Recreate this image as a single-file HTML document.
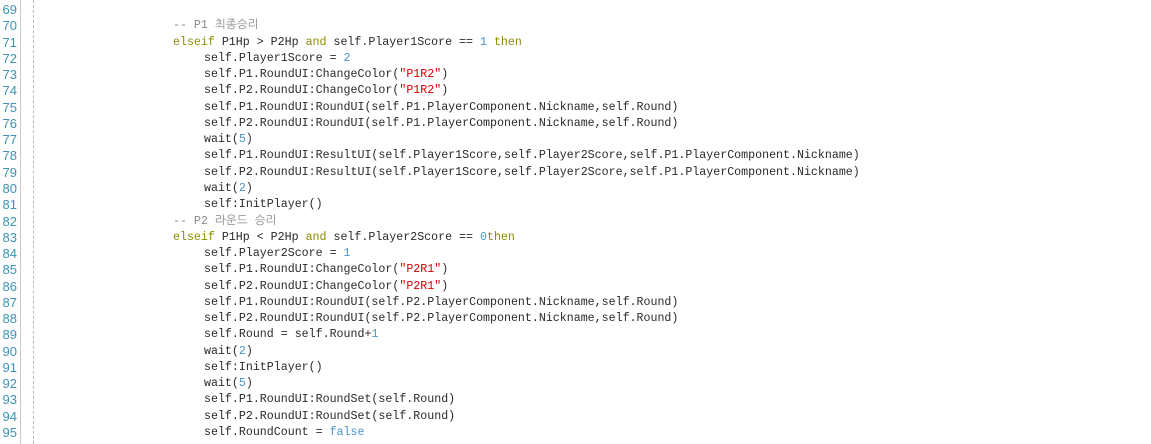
<!DOCTYPE html>
<html><head><meta charset="utf-8"><style>
html,body{margin:0;padding:0;background:#fff;width:1151px;height:444px;overflow:hidden;}
.w{position:relative;width:1151px;height:444px;font-family:"Liberation Mono","NanumGothic","Noto Sans CJK KR",monospace;font-size:11.63px;color:#2a2a2a;}
.g{position:absolute;left:20px;top:0;width:1px;height:444px;background:#c8c8c8;}
.d{position:absolute;left:33px;top:0;height:444px;border-left:1px dashed #bbb;}
.l{position:absolute;left:0;height:16.27px;line-height:16.27px;white-space:pre;}
.n{position:absolute;left:0;width:17px;text-align:right;color:#3b93b5;font-family:"Liberation Sans",sans-serif;font-size:13px;}
.c{position:absolute;}
.i1{left:173px}.i2{left:204px}
.k{color:#8c8c00}.s{color:#d40000}.m{color:#4a95c9}.cm{color:#8a8a8a}
</style></head><body><div class="w">
<div class="g"></div><div class="d"></div>
<div class="l" style="top:2px"><span class="n">69</span></div>
<div class="l" style="top:18.27px"><span class="n">70</span><span class="c i1 cm">-- P1 최종승리</span></div>
<div class="l" style="top:34.54px"><span class="n">71</span><span class="c i1"><span class="k">elseif</span> P1Hp &gt; P2Hp <span class="k">and</span> self.Player1Score == <span class="m">1</span> <span class="k">then</span></span></div>
<div class="l" style="top:50.81px"><span class="n">72</span><span class="c i2">self.Player1Score = <span class="m">2</span></span></div>
<div class="l" style="top:67.08px"><span class="n">73</span><span class="c i2">self.P1.RoundUI:ChangeColor(<span class="s">"P1R2"</span>)</span></div>
<div class="l" style="top:83.35px"><span class="n">74</span><span class="c i2">self.P2.RoundUI:ChangeColor(<span class="s">"P1R2"</span>)</span></div>
<div class="l" style="top:99.62px"><span class="n">75</span><span class="c i2">self.P1.RoundUI:RoundUI(self.P1.PlayerComponent.Nickname,self.Round)</span></div>
<div class="l" style="top:115.89px"><span class="n">76</span><span class="c i2">self.P2.RoundUI:RoundUI(self.P1.PlayerComponent.Nickname,self.Round)</span></div>
<div class="l" style="top:132.16px"><span class="n">77</span><span class="c i2">wait(<span class="m">5</span>)</span></div>
<div class="l" style="top:148.43px"><span class="n">78</span><span class="c i2">self.P1.RoundUI:ResultUI(self.Player1Score,self.Player2Score,self.P1.PlayerComponent.Nickname)</span></div>
<div class="l" style="top:164.7px"><span class="n">79</span><span class="c i2">self.P2.RoundUI:ResultUI(self.Player1Score,self.Player2Score,self.P1.PlayerComponent.Nickname)</span></div>
<div class="l" style="top:180.97px"><span class="n">80</span><span class="c i2">wait(<span class="m">2</span>)</span></div>
<div class="l" style="top:197.24px"><span class="n">81</span><span class="c i2">self:InitPlayer()</span></div>
<div class="l" style="top:213.51px"><span class="n">82</span><span class="c i1 cm">-- P2 라운드 승리</span></div>
<div class="l" style="top:229.78px"><span class="n">83</span><span class="c i1"><span class="k">elseif</span> P1Hp &lt; P2Hp <span class="k">and</span> self.Player2Score == <span class="m">0</span><span class="k">then</span></span></div>
<div class="l" style="top:246.05px"><span class="n">84</span><span class="c i2">self.Player2Score = <span class="m">1</span></span></div>
<div class="l" style="top:262.32px"><span class="n">85</span><span class="c i2">self.P1.RoundUI:ChangeColor(<span class="s">"P2R1"</span>)</span></div>
<div class="l" style="top:278.59px"><span class="n">86</span><span class="c i2">self.P2.RoundUI:ChangeColor(<span class="s">"P2R1"</span>)</span></div>
<div class="l" style="top:294.86px"><span class="n">87</span><span class="c i2">self.P1.RoundUI:RoundUI(self.P2.PlayerComponent.Nickname,self.Round)</span></div>
<div class="l" style="top:311.13px"><span class="n">88</span><span class="c i2">self.P2.RoundUI:RoundUI(self.P2.PlayerComponent.Nickname,self.Round)</span></div>
<div class="l" style="top:327.4px"><span class="n">89</span><span class="c i2">self.Round = self.Round+<span class="m">1</span></span></div>
<div class="l" style="top:343.67px"><span class="n">90</span><span class="c i2">wait(<span class="m">2</span>)</span></div>
<div class="l" style="top:359.94px"><span class="n">91</span><span class="c i2">self:InitPlayer()</span></div>
<div class="l" style="top:376.21px"><span class="n">92</span><span class="c i2">wait(<span class="m">5</span>)</span></div>
<div class="l" style="top:392.48px"><span class="n">93</span><span class="c i2">self.P1.RoundUI:RoundSet(self.Round)</span></div>
<div class="l" style="top:408.75px"><span class="n">94</span><span class="c i2">self.P2.RoundUI:RoundSet(self.Round)</span></div>
<div class="l" style="top:425.02px"><span class="n">95</span><span class="c i2">self.RoundCount = <span class="m">false</span></span></div>
</div></body></html>
